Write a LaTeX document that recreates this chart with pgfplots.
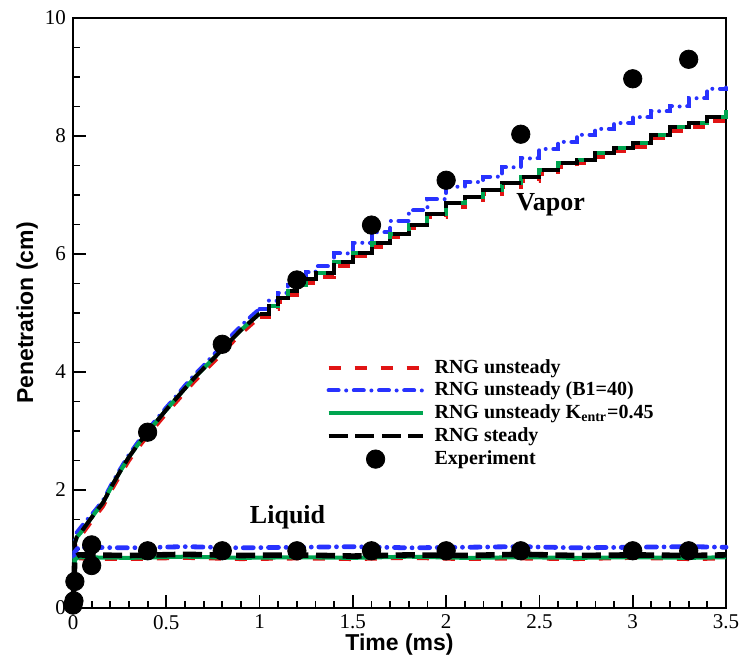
\documentclass[border=0pt]{standalone}
\usepackage{fontspec}
\setmainfont{Liberation Serif}
\setsansfont{Liberation Sans}
\usepackage{pgfplots}
\pgfplotsset{compat=1.18}
\usetikzlibrary{calc}

\definecolor{cred}{RGB}{225,20,20}
\definecolor{cblue}{RGB}{40,50,255}
\definecolor{cgreen}{RGB}{0,165,80}

\tikzset{
  redline/.style={cred, line width=2pt, dash pattern=on 6pt off 7pt},
  blueline/.style={cblue, line width=2pt, line cap=round, dash pattern=on 5pt off 3.8pt on 0pt off 3.8pt},
  greenline/.style={cgreen, line width=2pt},
  blackline/.style={black, line width=2pt, dash pattern=on 9.5pt off 3.8pt},
}

\begin{document}
\begin{tikzpicture}
\begin{axis}[
  width=326.5pt, height=295pt, scale only axis,
  xmin=0, xmax=3.5, ymin=0, ymax=10,
  xtick={0,0.5,...,3.5}, ytick={0,2,...,10},
  minor x tick num=4, minor y tick num=3,
  tick align=inside, xtick pos=bottom, ytick pos=left,
  major tick length=6.5pt, minor tick length=3.5pt,
  every tick/.style={black, line width=0.9pt},
  axis line style={line width=1.3pt},
  tick label style={font=\fontsize{10.5}{12}\selectfont},
  /pgf/number format/assume math mode=true,
  xlabel={Time (ms)}, ylabel={Penetration (cm)},
  label style={font=\sffamily\bfseries\fontsize{11.5}{13}\selectfont},
  xlabel style={at={(axis description cs:0.5,0)}, anchor=center, yshift=-18.5pt},
  ylabel style={at={(axis description cs:-0.07,0.5)}, anchor=center},
  clip=false,
  legend cell align=left,
  legend style={draw=none, fill=none, at={(axis cs:1.325,4.36)}, anchor=north west,
    font=\bfseries\fontsize{10}{11}\selectfont, row sep=-1pt,
    /tikz/every odd column/.append style={column sep=3pt}},
  legend image code/.code={\draw[mark repeat=2,mark phase=2,#1] plot coordinates {(0pt,0pt) (23.5pt,0pt) (47pt,0pt)};},
]
\coordinate (sw) at (rel axis cs:0,0);
\coordinate (ne) at (rel axis cs:1,1);

% vapor penetration: early part drawn as a line, later part as steps
\addplot[redline] table {
t y
0 0
0.01 1.04
0.02 1.14
0.04 1.21
0.06 1.30
0.09 1.43
0.12 1.56
0.16 1.72
0.21 2.02
0.25 2.24
0.30 2.50
0.35 2.72
0.40 2.92
0.45 3.11
0.50 3.30
0.55 3.48
0.60 3.66
0.65 3.84
0.70 4.00
0.75 4.16
0.80 4.32
0.85 4.49
0.90 4.65
0.95 4.79
1.00 4.93
};
\addlegendentry{RNG unsteady}
\addplot[blueline] table {
t y
0 0
0.01 1.15
0.02 1.28
0.04 1.36
0.06 1.44
0.09 1.55
0.12 1.66
0.16 1.82
0.21 2.12
0.25 2.34
0.30 2.60
0.35 2.82
0.40 3.02
0.45 3.21
0.50 3.40
0.55 3.58
0.60 3.77
0.65 3.95
0.70 4.11
0.75 4.28
0.80 4.45
0.85 4.62
0.90 4.78
0.95 4.93
1.00 5.07
};
\addlegendentry{RNG unsteady (B1=40)}
\addplot[greenline] table {
t y
0 0
0.01 1.10
0.02 1.20
0.04 1.27
0.06 1.36
0.09 1.49
0.12 1.62
0.16 1.78
0.21 2.08
0.25 2.30
0.30 2.56
0.35 2.78
0.40 2.98
0.45 3.17
0.50 3.36
0.55 3.54
0.60 3.72
0.65 3.90
0.70 4.06
0.75 4.22
0.80 4.38
0.85 4.55
0.90 4.71
0.95 4.85
1.00 4.99
};
\addlegendentry{RNG unsteady K\textsubscript{entr}=0.45}
\addplot[blackline] table {
t y
0 0
0.01 1.10
0.02 1.20
0.04 1.27
0.06 1.36
0.09 1.49
0.12 1.62
0.16 1.78
0.21 2.08
0.25 2.30
0.30 2.56
0.35 2.78
0.40 2.98
0.45 3.17
0.50 3.36
0.55 3.54
0.60 3.72
0.65 3.90
0.70 4.06
0.75 4.22
0.80 4.38
0.85 4.55
0.90 4.71
0.95 4.85
1.00 4.99
};
\addlegendentry{RNG steady}

\addplot[redline, const plot, forget plot] table {
t y
1.00 4.93
1.05 5.06
1.10 5.19
1.15 5.31
1.20 5.42
1.25 5.51
1.30 5.61
1.40 5.80
1.50 5.96
1.60 6.12
1.70 6.28
1.80 6.44
1.90 6.62
2.00 6.80
2.10 6.91
2.20 7.02
2.30 7.14
2.40 7.24
2.50 7.36
2.60 7.48
2.70 7.54
2.80 7.65
2.90 7.74
3.00 7.82
3.10 7.96
3.20 8.09
3.30 8.16
3.40 8.26
3.50 8.26
};
\addplot[blueline, const plot, forget plot] table {
t y
1.00 5.07
1.05 5.21
1.10 5.34
1.15 5.47
1.20 5.59
1.25 5.69
1.30 5.79
1.40 6.01
1.50 6.19
1.60 6.37
1.70 6.56
1.80 6.74
1.90 6.93
2.00 7.14
2.10 7.22
2.20 7.31
2.30 7.47
2.40 7.62
2.50 7.78
2.60 7.90
2.70 8.02
2.80 8.12
2.90 8.22
3.00 8.32
3.10 8.42
3.20 8.50
3.30 8.64
3.40 8.80
3.50 8.82
};
\addplot[greenline, const plot, forget plot] table {
t y
1.00 4.99
1.05 5.12
1.10 5.25
1.15 5.37
1.20 5.48
1.25 5.57
1.30 5.67
1.40 5.86
1.50 6.02
1.60 6.18
1.70 6.34
1.80 6.50
1.90 6.68
2.00 6.86
2.10 6.97
2.20 7.08
2.30 7.20
2.40 7.30
2.50 7.42
2.60 7.54
2.70 7.60
2.80 7.71
2.90 7.80
3.00 7.88
3.10 8.02
3.20 8.15
3.30 8.22
3.40 8.32
3.50 8.44
};
\addplot[blackline, const plot, forget plot] table {
t y
1.00 4.99
1.05 5.12
1.10 5.25
1.15 5.37
1.20 5.48
1.25 5.57
1.30 5.67
1.40 5.86
1.50 6.02
1.60 6.18
1.70 6.34
1.80 6.50
1.90 6.68
2.00 6.86
2.10 6.97
2.20 7.08
2.30 7.20
2.40 7.30
2.50 7.42
2.60 7.54
2.70 7.60
2.80 7.71
2.90 7.80
3.00 7.88
3.10 8.02
3.20 8.15
3.30 8.22
3.40 8.32
3.50 8.32
};

% liquid penetration
\addplot[redline, forget plot] coordinates {
(0,0) (0.01,0.80) (0.03,0.84) (0.3,0.83) (0.6,0.85) (0.9,0.83) (1.2,0.84) (1.5,0.83)
(1.8,0.85) (2.1,0.83) (2.4,0.84) (2.7,0.83) (3.0,0.85) (3.3,0.83) (3.5,0.84)};
\addplot[blueline, line width=2.4pt, forget plot] coordinates {
(0,0) (0.01,0.95) (0.03,1.03) (0.3,1.02) (0.6,1.04) (0.9,1.02) (1.2,1.03) (1.5,1.04)
(1.8,1.02) (2.1,1.03) (2.4,1.04) (2.7,1.02) (3.0,1.03) (3.3,1.04) (3.5,1.03)};
\addplot[greenline, forget plot] coordinates {
(0,0) (0.01,0.82) (0.03,0.86) (0.3,0.85) (0.6,0.87) (0.9,0.85) (1.2,0.86) (1.5,0.85)
(1.8,0.87) (2.1,0.85) (2.4,0.86) (2.7,0.85) (3.0,0.86) (3.3,0.85) (3.5,0.86)};
\addplot[blackline, line width=2.8pt, forget plot] coordinates {
(0,0) (0.01,0.86) (0.03,0.90) (0.3,0.89) (0.6,0.91) (0.9,0.89) (1.2,0.90) (1.5,0.88)
(1.8,0.90) (2.1,0.89) (2.4,0.91) (2.7,0.89) (3.0,0.90) (3.3,0.89) (3.5,0.90)};

% experiment
\addplot[only marks, mark=*, mark size=4.6pt, black] coordinates {
(0,0.05) (0.005,0.12) (0.01,0.45) (0.1,0.72) (0.1,1.07)
(0.4,0.97) (0.8,0.97) (1.2,0.97) (1.6,0.97) (2.0,0.97) (2.4,0.97) (3.0,0.97) (3.3,0.97)
(0.4,2.98) (0.8,4.47) (1.2,5.56) (1.6,6.49) (2.0,7.25) (2.4,8.03) (3.0,8.97) (3.3,9.30)};
\addlegendentry{Experiment}

\node[font=\bfseries\fontsize{13}{14}\selectfont] at (axis cs:2.56,6.83) {Vapor};
\node[font=\bfseries\fontsize{13}{14}\selectfont] at (axis cs:1.15,1.53) {Liquid};
\end{axis}
\pgfresetboundingbox
\path[use as bounding box] ($(sw)+(-36.5pt,-28pt)$) rectangle ($(ne)+(7pt,9pt)$);
\end{tikzpicture}
\end{document}
